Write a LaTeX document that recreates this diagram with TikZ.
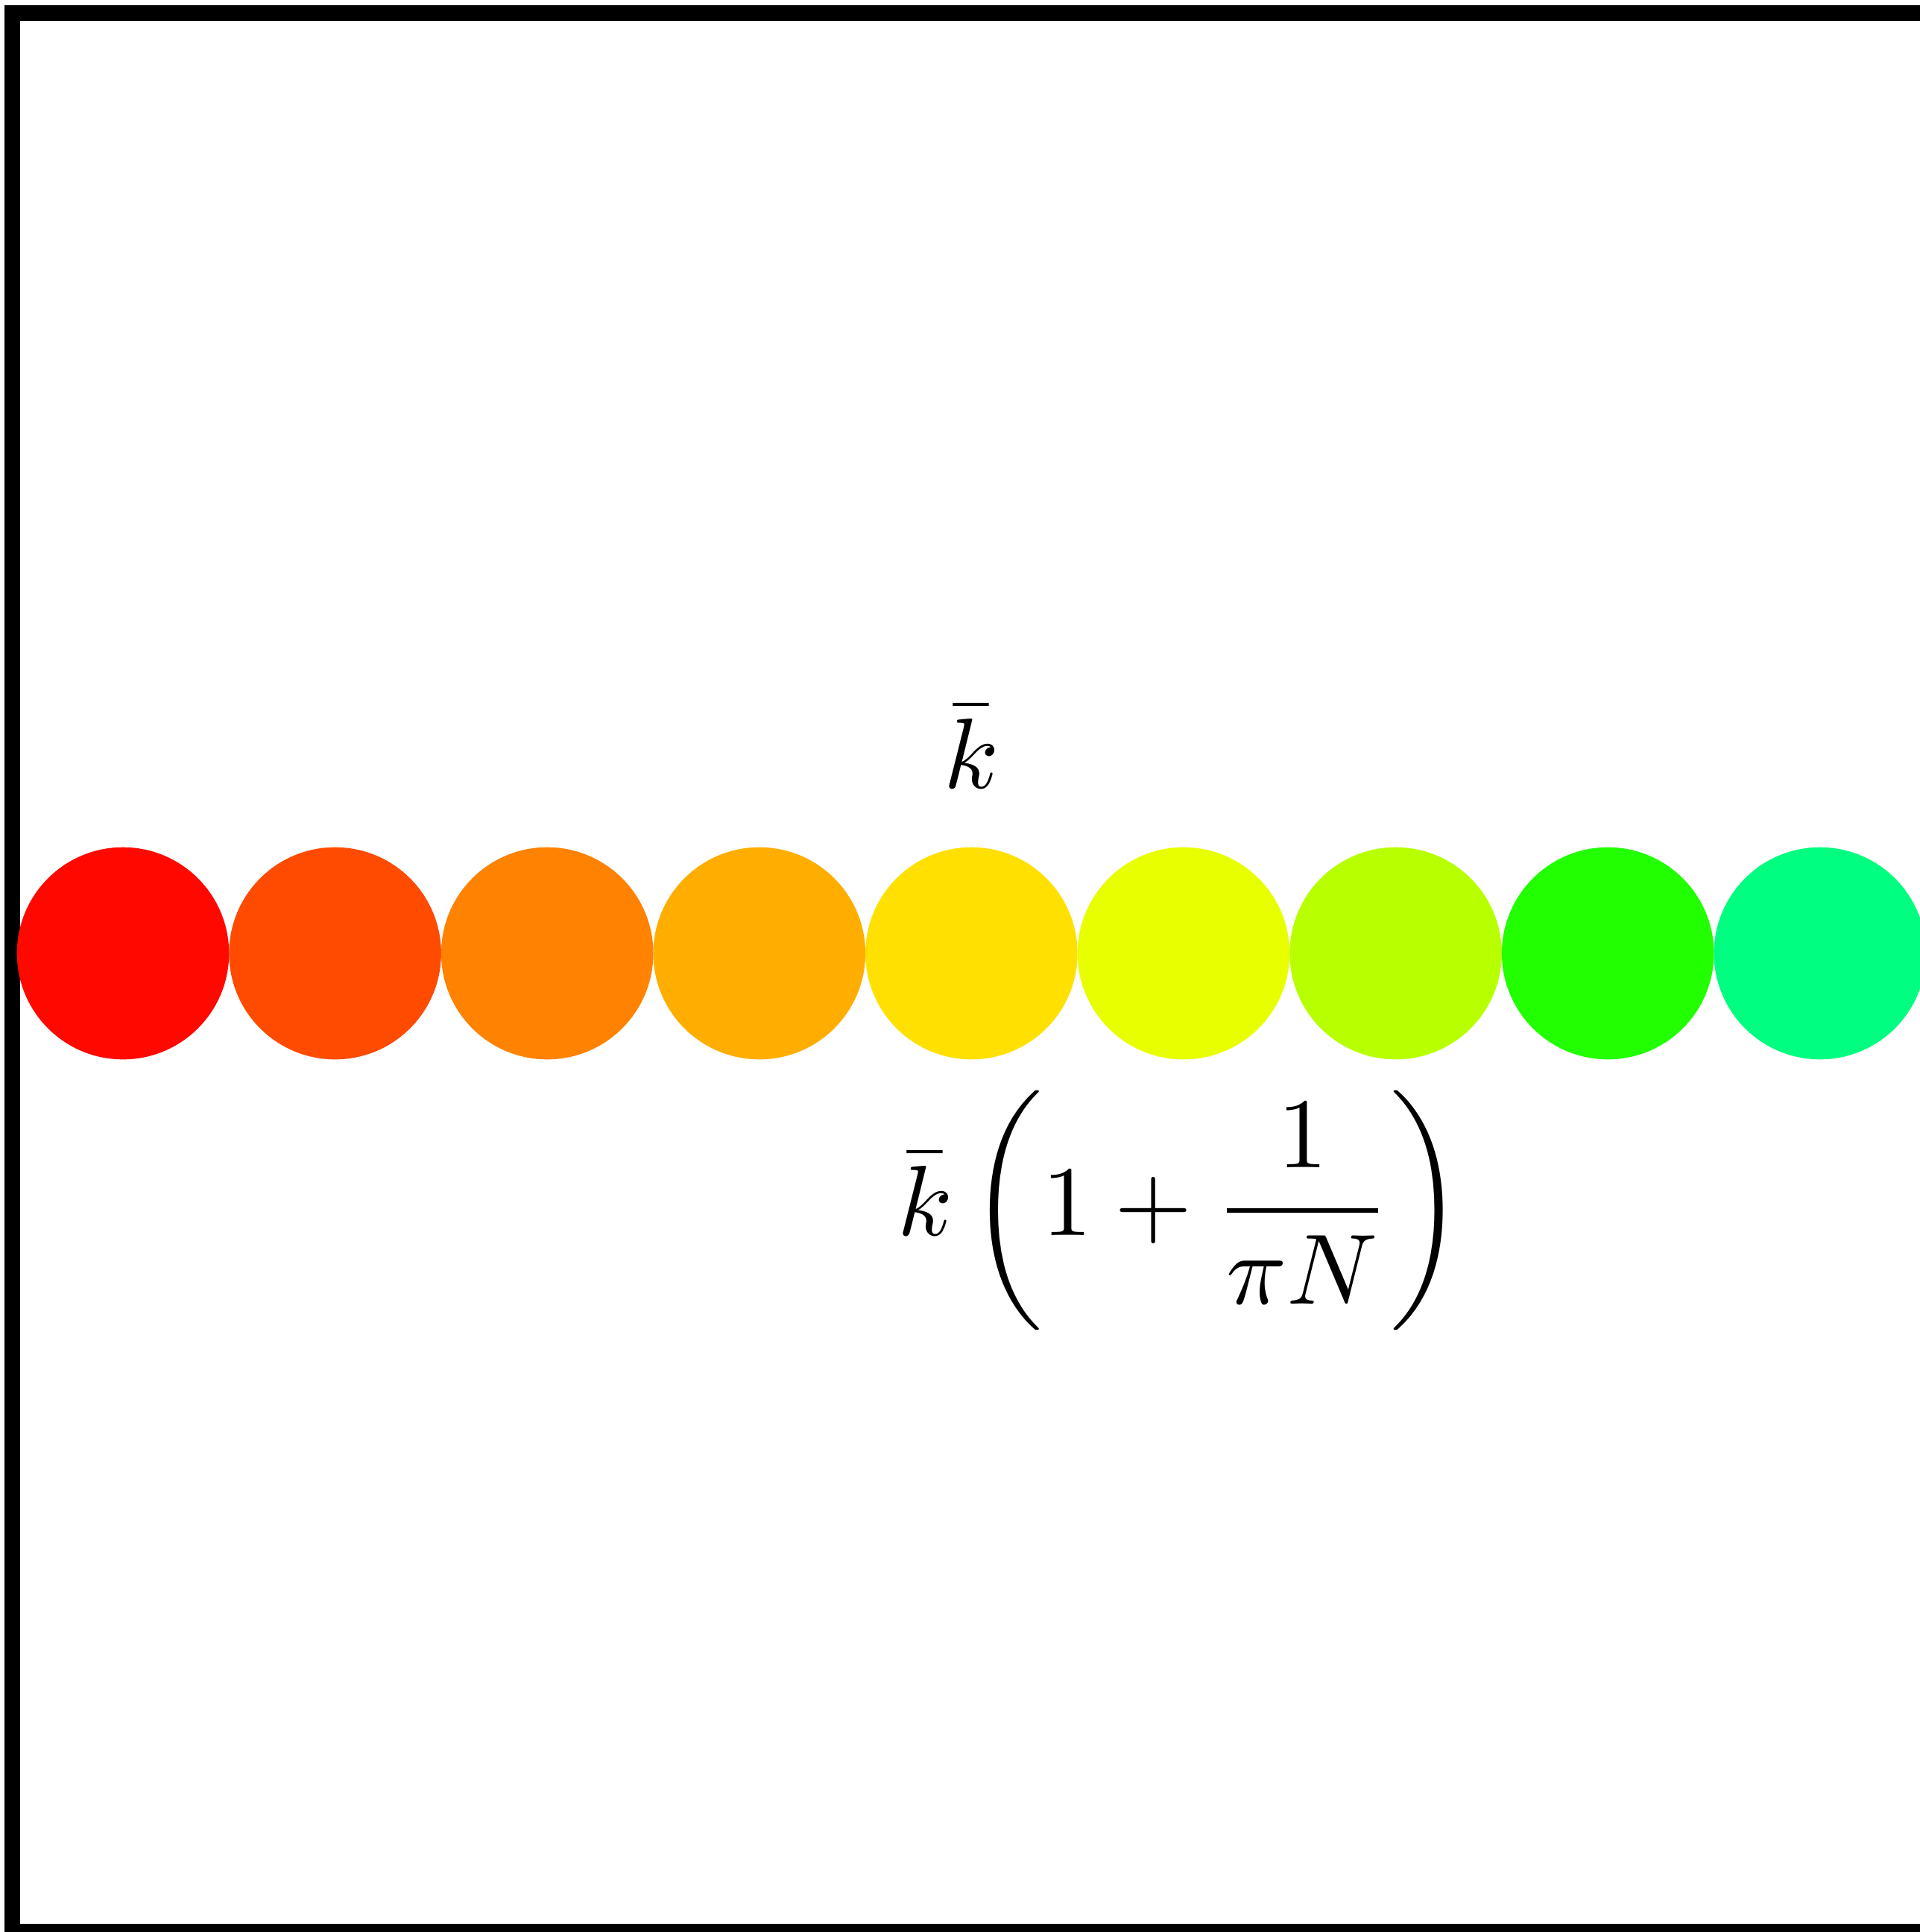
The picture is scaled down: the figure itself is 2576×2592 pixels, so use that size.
\documentclass[tikz,border=0pt]{standalone}
\definecolor{cA}{RGB}{255,8,0}
\definecolor{cB}{RGB}{255,75,0}
\definecolor{cC}{RGB}{255,130,0}
\definecolor{cD}{RGB}{255,174,0}
\definecolor{cE}{RGB}{255,224,0}
\definecolor{cF}{RGB}{232,255,0}
\definecolor{cG}{RGB}{184,255,0}
\definecolor{cH}{RGB}{34,255,0}
\definecolor{cI}{RGB}{0,255,128}
\begin{document}
\begin{tikzpicture}[x=0.07463pt,y=-0.07463pt,
  ball/.style={circle,inner sep=0pt,minimum size=21.24pt,draw=none},
  lbl/.style={inner sep=0pt,font=\normalsize}]
\path[use as bounding box] (0,0) rectangle (2576,2592);
\clip (0,0) rectangle (2576,2592);
\draw[line width=1.567pt] (16.5,17.5) rectangle (2620,2591.5);
\foreach \c [count=\i from 0] in {cA,cB,cC,cD,cE,cF,cG,cH,cI}{
  \node[ball,fill=\c] (c\i) at ({165+\i*284.6},1279) {};
}
\node[lbl] (ktop) at (1303,1002) {$\bar{k}$};
\node[lbl] (kform) at (1584,1624) {$\displaystyle \bar{k}\left(1+\frac{1}{\pi N}\right)$};
\end{tikzpicture}
\end{document}
